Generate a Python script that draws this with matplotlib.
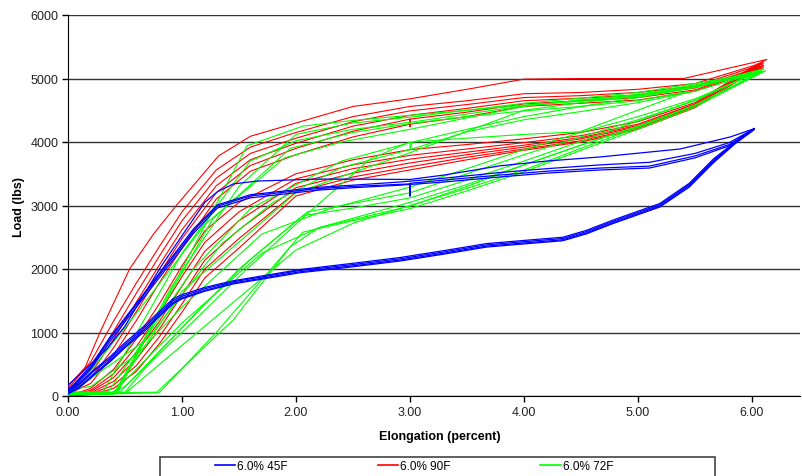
import matplotlib.pyplot as plt
from matplotlib.lines import Line2D
from matplotlib.patches import Rectangle

plt.rcParams['font.family'] = ['Liberation Sans', 'DejaVu Sans']

# ---- 6.0% 45F (blue) : elongation (percent) / load (lbs), one loop per specimen
b_out_x = [0, 0.1, 0.22, 0.37, 0.5, 0.66, 0.8, 0.92, 1.0, 1.2, 1.45, 1.75, 2.03, 2.5,
           2.91, 3.3, 3.67, 4.0, 4.34, 4.55, 4.78, 5.0, 5.19, 5.45, 5.66, 5.85, 6.02]
b1_out_y = [60, 180, 380, 590, 810, 1060, 1300, 1500, 1570, 1690, 1800, 1890, 1975, 2070,
            2160, 2270, 2380, 2430, 2480, 2590, 2750, 2890, 3010, 3330, 3710, 3990, 4210]
b2_out_y = [40, 150, 340, 560, 780, 1030, 1270, 1470, 1545, 1665, 1780, 1870, 1955, 2050,
            2140, 2250, 2360, 2410, 2460, 2570, 2730, 2870, 2990, 3310, 3690, 3980, 4200]
b3_out_y = [80, 200, 400, 620, 840, 1090, 1330, 1530, 1595, 1710, 1815, 1905, 1990, 2090,
            2180, 2290, 2400, 2450, 2500, 2610, 2770, 2910, 3030, 3350, 3730, 4000, 4215]
b4_out_y = [30, 130, 320, 540, 760, 1000, 1250, 1450, 1530, 1650, 1765, 1855, 1940, 2035,
            2125, 2235, 2345, 2395, 2445, 2555, 2715, 2855, 2975, 3290, 3670, 3970, 4195]

b1_back_x = [6.02, 5.81, 5.37, 4.67, 4.2, 3.79, 3.3, 3.0, 2.5, 2.18, 1.66, 1.45, 1.31, 1.2,
             1.04, 0.82, 0.65, 0.5, 0.34, 0.15, 0]
b1_back_y = [4210, 4080, 3890, 3765, 3700, 3625, 3480, 3410, 3415, 3415, 3385, 3340, 3215, 3050,
             2630, 2050, 1550, 1100, 740, 420, 170]
b2_back_x = [6.02, 5.8, 5.5, 5.1, 4.67, 4.2, 3.79, 3.3, 3.0, 3.0, 3.0, 2.5, 2.18, 1.6, 1.31,
             1.1, 0.96, 0.8, 0.66, 0.5, 0.37, 0.2, 0.05, 0]
b2_back_y = [4200, 3960, 3780, 3620, 3590, 3540, 3480, 3400, 3350, 3150, 3340, 3300, 3265, 3150, 2990,
             2600, 2270, 1900, 1580, 1210, 900, 450, 160, 90]
b_back_x = [6.02, 5.8, 5.5, 5.1, 4.67, 4.2, 3.79, 3.3, 2.91, 2.5, 2.18, 1.6, 1.31, 1.1, 0.96,
            0.8, 0.66, 0.5, 0.37, 0.2, 0.05, 0]
b3_back_y = [4210, 3990, 3820, 3680, 3640, 3580, 3520, 3430, 3370, 3320, 3285, 3170, 3010, 2630, 2300,
             1930, 1600, 1230, 930, 480, 180, 110]
b4_back_y = [4195, 3940, 3750, 3590, 3560, 3510, 3450, 3370, 3320, 3280, 3240, 3120, 2960, 2560, 2230,
             1860, 1540, 1170, 860, 420, 140, 70]

# ---- 6.0% 90F (red)
r_out_x = [0, 0.2, 0.4, 0.6, 0.8, 1.0, 1.2, 1.5, 2.0, 2.5, 3.0, 3.5, 4.0, 4.5, 5.0, 5.5, 6.05]
r1_out_y = [0, 120, 420, 900, 1450, 2050, 2600, 3050, 3500, 3720, 3880, 3960, 4050, 4150, 4320, 4620, 5230]
r2_out_y = [0, 90, 350, 780, 1300, 1880, 2420, 2900, 3420, 3640, 3790, 3890, 3990, 4100, 4280, 4600, 5200]
r3_out_y = [0, 70, 290, 680, 1170, 1730, 2280, 2760, 3350, 3580, 3730, 3840, 3950, 4070, 4260, 4590, 5220]
r4_out_y = [0, 50, 230, 580, 1050, 1590, 2140, 2620, 3280, 3510, 3670, 3800, 3920, 4050, 4240, 4570, 5180]
r5_out_y = [0, 35, 170, 480, 930, 1450, 2000, 2480, 3210, 3450, 3610, 3760, 3890, 4020, 4220, 4560, 5200]
r6_out_y = [0, 20, 120, 390, 820, 1320, 1860, 2330, 3150, 3400, 3560, 3720, 3870, 4000, 4200, 4540, 5160]

r_back_x = [6.1, 5.5, 5.0, 4.5, 4.0, 3.5, 3.0, 2.5, 2.0, 1.6, 1.3, 1.0, 0.8, 0.6, 0.4, 0.2, 0]
r1_back_x = [6.13, 5.4, 5.0, 4.5, 4.0, 3.5, 3.0, 2.5, 2.0, 1.6, 1.32, 0.95, 0.75, 0.54, 0.28, 0.15, 0]
r1_back_y = [5300, 5000, 5000, 5000, 4990, 4830, 4680, 4560, 4300, 4090, 3780, 3000, 2550, 2000, 1000, 450, 150]
r2_back_y = [5250, 4920, 4830, 4780, 4760, 4650, 4560, 4400, 4150, 3920, 3560, 2900, 2350, 1780, 1180, 540, 110]
r3_back_y = [5230, 4880, 4780, 4730, 4700, 4590, 4490, 4320, 4060, 3820, 3430, 2760, 2200, 1620, 1020, 430, 80]
r4_back_y = [5200, 4850, 4740, 4690, 4650, 4530, 4420, 4250, 3980, 3720, 3310, 2620, 2060, 1480, 890, 350, 60]
r5_back_x = [6.08, 5.5, 5.0, 4.5, 4.0, 3.5, 3.0, 3.0, 3.0, 2.5, 2.0, 1.6, 1.3, 1.0, 0.8, 0.6, 0.4, 0.2, 0]
r5_back_y = [5180, 4820, 4700, 4650, 4600, 4470, 4360, 4240, 4360, 4170, 3900, 3630, 3200, 2480, 1920, 1330, 760, 270, 40]
r6_back_y = [5170, 4800, 4660, 4610, 4560, 4400, 4280, 4080, 3800, 3540, 3100, 2330, 1780, 1190, 650, 200, 30]

# ---- 6.0% 72F (green)
g1_x = [0, 0.43, 1.0, 1.57, 2.06, 2.5, 3.0, 3.5, 4.0, 4.5, 5.0, 5.5, 6.1,
        5.5, 5.0, 4.5, 4.0, 3.5, 3.0, 2.5, 2.06, 1.6, 1.2, 0.8, 0.5, 0]
g1_y = [40, 40, 2000, 3940, 4250, 4340, 4420, 4500, 4580, 4640, 4730, 4880, 5150,
        4660, 4330, 4010, 3700, 3400, 3120, 2960, 2840, 2150, 1450, 700, 60, 40]
g2_x = [0, 0.4, 1.27, 1.95, 2.5, 3.0, 3.5, 4.0, 4.5, 5.0, 5.43,
        4.49, 4.0, 3.5, 3.02, 3.0, 3.0, 2.65, 2.1, 1.57, 1.0, 0.5, 0.35, 0]
g2_y = [30, 30, 2790, 3900, 4150, 4290, 4400, 4490, 4560, 4650, 4790,
        4160, 4120, 4060, 4000, 3880, 4000, 3730, 2870, 2000, 1000, 150, 30, 30]
g3_x = [0, 0.35, 1.1, 1.6, 2.4, 3.0, 3.5, 4.0, 4.5, 5.0, 5.5, 6.08,
        5.5, 5.0, 4.5, 4.0, 3.5, 3.0, 2.5, 2.2, 1.7, 1.0, 0.4, 0]
g3_y = [60, 60, 2000, 2950, 3700, 3990, 4200, 4400, 4560, 4700, 4860, 5100,
        4580, 4250, 3950, 3640, 3330, 3050, 2800, 2650, 2250, 1150, 60, 60]
g4_x = [0, 0.8, 1.3, 2.06, 2.5, 3.0, 3.5, 4.0, 4.5, 5.0, 5.5, 6.05,
        5.5, 5.0, 4.5, 4.0, 3.5, 3.0, 2.5, 2.0, 1.6, 1.0, 0.3, 0]
g4_y = [20, 50, 1000, 2580, 2760, 2950, 3230, 3530, 3870, 4200, 4550, 5060,
        4900, 4750, 4660, 4570, 4440, 4310, 4200, 4020, 3700, 2250, 40, 20]
g5_x = [0, 0.45, 1.5, 2.1, 3.0, 3.5, 4.0, 4.5, 5.0, 5.5, 6.1,
        5.5, 5.0, 4.5, 4.0, 3.5, 3.0, 2.5, 2.0, 1.0, 0.4, 0]
g5_y = [50, 50, 2000, 2900, 3200, 3500, 3800, 4080, 4350, 4650, 5150,
        4860, 4720, 4620, 4500, 4170, 3830, 3520, 3200, 1650, 50, 50]
g6_x = [0, 0.2, 0.6, 1.0, 1.7, 2.3, 3.0, 3.5, 4.0, 4.5, 5.0, 5.5, 6.06,
        5.5, 5.0, 4.5, 4.0, 3.5, 3.0, 2.4, 1.9, 1.2, 0.6, 0.1, 0]
g6_y = [100, 150, 650, 1400, 2550, 2950, 3290, 3580, 3880, 4150, 4400, 4680, 5100,
        4870, 4740, 4660, 4560, 4380, 4200, 4000, 3750, 2700, 1300, 180, 100]
g7_x = [0, 0.5, 1.2, 2.0, 2.5, 3.0, 3.5, 4.0, 4.5, 5.0, 5.5, 6.12,
        5.5, 5.0, 4.5, 4.0, 3.5, 3.0, 2.5, 2.0, 1.5, 0.9, 0.42, 0]
g7_y = [30, 40, 1100, 2300, 2720, 3000, 3270, 3560, 3900, 4230, 4580, 5120,
        4920, 4780, 4690, 4610, 4500, 4390, 4300, 4120, 3300, 1700, 40, 30]
g8_x = [0, 0.78, 1.45, 1.95, 2.2, 3.0, 3.5, 4.0, 4.5, 5.0, 5.5, 6.07,
        5.5, 5.0, 4.5, 4.0, 3.5, 3.0, 2.4, 1.8, 1.35, 0.7, 0]
g8_y = [50, 60, 1200, 2350, 2650, 2990, 3300, 3640, 3950, 4250, 4580, 5100,
        4800, 4620, 4480, 4350, 4160, 3880, 3600, 3050, 2400, 900, 30]

series_labels = ['6.0% 45F', '6.0% 90F', '6.0% 72F']
series_colors = ['#0000ff', '#ff0000', '#00ff00']
x_ticks = [0, 1, 2, 3, 4, 5, 6]
y_ticks = [0, 1000, 2000, 3000, 4000, 5000, 6000]


def main():
    blue = [(b_out_x + b1_back_x, b1_out_y + b1_back_y),
            (b_out_x + b2_back_x, b2_out_y + b2_back_y),
            (b_out_x + b_back_x, b3_out_y + b3_back_y),
            (b_out_x + b_back_x, b4_out_y + b4_back_y)]
    red = [(r_out_x + r1_back_x, r1_out_y + r1_back_y),
           (r_out_x + r_back_x, r2_out_y + r2_back_y),
           (r_out_x + r_back_x, r3_out_y + r3_back_y),
           (r_out_x + r_back_x, r4_out_y + r4_back_y),
           (r_out_x + r5_back_x, r5_out_y + r5_back_y),
           (r_out_x + r_back_x, r6_out_y + r6_back_y)]
    green = [(g1_x, g1_y), (g2_x, g2_y), (g3_x, g3_y), (g4_x, g4_y),
             (g5_x, g5_y), (g6_x, g6_y), (g7_x, g7_y), (g8_x, g8_y)]

    fig = plt.figure(figsize=(8.03, 4.77), dpi=100)
    ax = fig.add_axes([68 / 803, 80 / 477, 732 / 803, 381 / 477])

    for xs, ys in red:
        ax.plot(xs, ys, color=series_colors[1], lw=0.8, zorder=3)
    for xs, ys in green:
        ax.plot(xs, ys, color=series_colors[2], lw=0.8, zorder=4)
    for xs, ys in blue:
        ax.plot(xs, ys, color=series_colors[0], lw=0.9, zorder=5)

    ax.set_xlim(0, 732 / 114)
    ax.set_ylim(0, 6000)
    ax.set_xticks(x_ticks)
    ax.set_xticklabels(['%.2f' % v for v in x_ticks])
    ax.set_yticks(y_ticks)
    ax.yaxis.grid(True, color='#333333', lw=1.0, zorder=1)
    ax.set_axisbelow(True)
    for s in ['top', 'right']:
        ax.spines[s].set_visible(False)
    ax.spines['left'].set_color('black')
    ax.spines['bottom'].set_color('black')
    ax.tick_params(direction='out', length=4, width=1, labelsize=9,
                   colors='black', labelcolor='#222222', pad=3)

    fig.text(19 / 803, 1 - 207 / 477, 'Load (lbs)', rotation=90, ha='center', va='center',
             fontsize=9, fontweight='bold')
    fig.text(440 / 803, 1 - 437 / 477, 'Elongation (percent)', ha='center', va='center',
             fontsize=9, fontweight='bold')

    # legend box (cut by the bottom edge as in the source)
    fig.patches.append(Rectangle((160 / 803, -0.02), 555 / 803, (477 - 458) / 477 + 0.02,
                                 transform=fig.transFigure, fill=False,
                                 edgecolor='#444444', lw=1.2))
    handles = [Line2D([], [], color=c, lw=1.2) for c in series_colors]
    fig.legend(handles, series_labels, loc='center left', ncol=3, frameon=False,
               bbox_to_anchor=(215 / 803, 1 - 467 / 477), fontsize=8.5,
               handlelength=1.7, handletextpad=0.2, columnspacing=7.6,
               borderaxespad=0, borderpad=0)

    fig.savefig('out.png', dpi=100)


if __name__ == '__main__':
    main()
